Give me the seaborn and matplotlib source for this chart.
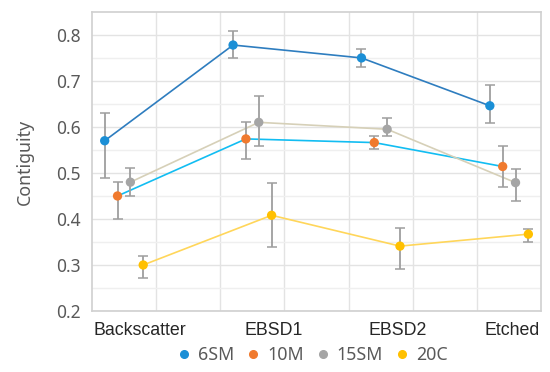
import numpy as np
import pandas as pd
import matplotlib
matplotlib.use("Agg")
import matplotlib.pyplot as plt
import seaborn as sns
from matplotlib.lines import Line2D

categories = ["Backscatter", "EBSD1", "EBSD2", "Etched"]
series = ["6SM", "10M", "15SM", "20C"]
values = {
    "6SM":  [0.570, 0.778, 0.750, 0.646],
    "10M":  [0.450, 0.574, 0.566, 0.514],
    "15SM": [0.480, 0.610, 0.595, 0.479],
    "20C":  [0.300, 0.408, 0.341, 0.367],
}
err_hi = {
    "6SM":  [0.060, 0.031, 0.020, 0.045],
    "10M":  [0.030, 0.036, 0.015, 0.045],
    "15SM": [0.030, 0.058, 0.025, 0.030],
    "20C":  [0.020, 0.071, 0.039, 0.012],
}
err_lo = {
    "6SM":  [0.080, 0.029, 0.020, 0.038],
    "10M":  [0.050, 0.044, 0.015, 0.045],
    "15SM": [0.030, 0.052, 0.015, 0.040],
    "20C":  [0.028, 0.069, 0.050, 0.017],
}
marker_colors = ["#1B8FD6", "#F07A2E", "#A5A5A5", "#FFC000"]
line_colors = ["#2E7DBF", "#12BDF2", "#D6D0B8", "#FFD65A"]
label_pos = [0.75, 2.83, 4.76, 6.54]

sns.set_theme(style="white")
plt.rcParams["font.family"] = ["Noto Sans", "DejaVu Sans"]

fig = plt.figure(figsize=(5.5, 3.72), dpi=100)
ax = fig.add_axes([0.167, 0.164, 0.817, 0.804])

rows = []
for si, s in enumerate(series):
    for ci, c in enumerate(categories):
        rows.append({"series": s, "cat": c, "x": 2 * ci + 0.5 + (si - 1.5) * 0.2,
                     "y": values[s][ci], "lo": err_lo[s][ci], "hi": err_hi[s][ci]})
df = pd.DataFrame(rows)

for si, s in enumerate(series):
    d = df[df.series == s]
    sns.lineplot(data=d, x="x", y="y", ax=ax, color=line_colors[si], lw=1.2,
                 sort=False, zorder=2, legend=False)
    ax.errorbar(d.x, d.y, yerr=[d.lo, d.hi], fmt="none", ecolor="#9E9E9E",
                elinewidth=1.3, capsize=3.5, capthick=1.1, zorder=3)
    sns.scatterplot(data=d, x="x", y="y", ax=ax, color=marker_colors[si], s=45,
                    edgecolor="none", zorder=4, legend=False)

ax.set_xlim(0, 7)
ax.set_ylim(0.2, 0.85)
ax.set_yticks(np.arange(0.2, 0.81, 0.1))
ax.set_yticklabels([f"{v:.1f}" for v in np.arange(0.2, 0.81, 0.1)])
ax.set_yticks(np.arange(0.25, 0.85, 0.1), minor=True)
ax.set_xticks(np.arange(1, 7), minor=True)
ax.set_xticks(label_pos)
ax.set_xticklabels(categories, fontfamily="Liberation Sans", fontsize=12.8, color="#262626")
ax.grid(True, which="major", axis="y", color="#E3E3E3", lw=1.0)
ax.grid(True, which="minor", axis="y", color="#EFEFEF", lw=1.0)
ax.grid(True, which="minor", axis="x", color="#E3E3E3", lw=1.0)
ax.grid(False, which="major", axis="x")
ax.tick_params(axis="both", which="both", length=0)
ax.tick_params(axis="y", labelsize=12.5, labelcolor="#595959", pad=8)
ax.tick_params(axis="x", pad=8)
for sp in ax.spines.values():
    sp.set_color("#D0D0D0")
    sp.set_linewidth(1.2)
ax.set_xlabel("")
ax.set_ylabel("Contiguity", fontsize=12.8, color="#595959", labelpad=16)

handles = [Line2D([], [], marker="o", ls="none", color=c, markersize=5.5) for c in marker_colors]
fig.legend(handles, series, loc="center", bbox_to_anchor=(0.566, 0.045), ncol=4,
           frameon=False, fontsize=12.8, handletextpad=0.3, columnspacing=0.55,
           labelcolor="#595959", handlelength=1.0)

fig.savefig("out.png", dpi=100)
